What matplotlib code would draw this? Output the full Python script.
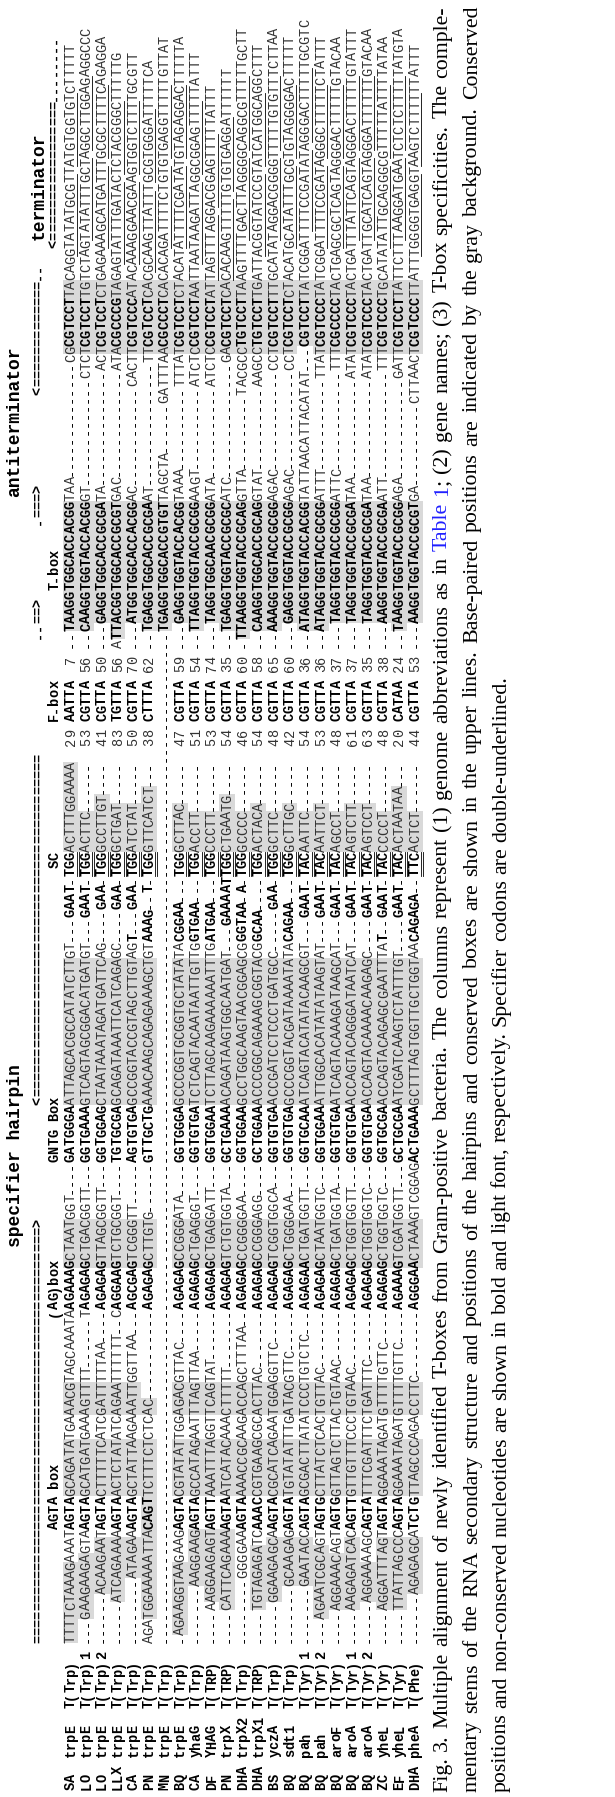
import matplotlib
matplotlib.use('Agg')
import matplotlib.pyplot as plt
from matplotlib.patches import Rectangle
from matplotlib.lines import Line2D

# ---------------- data ----------------
genomes = ["SA", "LO", "LO", "LLX", "CA", "PN", "MN", "BQ", "CA", "DF", "PN", "DHA", "DHA",
           "BS", "BQ", "BQ", "BQ", "BQ", "BQ", "BQ", "ZC", "EF", "DHA"]
genes = ["trpE", "trpE", "trpE", "trpE", "trpE", "trpE", "trpE", "trpE", "yhaG", "YHAG", "trpX",
         "trpX2", "trpX1", "yczA", "sdt1", "pah", "pah", "aroF", "aroA", "aroA", "yheL", "yheL", "pheA"]
specs = ["T(Trp)", "T(Trp)", "T(Trp)", "T(Trp)", "T(Trp)", "T(Trp)", "T(Trp)", "T(Trp)", "T(Trp)",
         "T(TRP)", "T(TRP)", "T(Trp)", "T(TRP)", "T(Trp)", "T(Trp)", "T(Tyr)", "T(Tyr)", "T(Tyr)",
         "T(Tyr)", "T(Tyr)", "T(Tyr)", "T(Tyr)", "T(Phe)"]
suffixes = ["", "1", "2", "", "", "", "", "", "", "", "", "", "", "", "", "1", "2", "", "1", "2", "", "", ""]

upstream = [
    "TTTTCTAAAGAAATAGTAGCAGATATGAAACGTAGCAAAT|A",
    "--GAAGAAGAGTAAGTAGCATGATGAAAGTTTT|T",
    "----ACAAGAATAGTACTTTTTCATCGATTTTTAA|",
    "----ATCAGAAAAAGTAACTCTATATCAGAATTTTTT|C",
    "----ATAGAAAGTAGCTATTAAGAAATTGGTTAA|",
    "---AGATGGAAAAATTACAGTTCTTTCTCTCAC|",
    "",
    "-AGAAGGTAAGAAGAGTACGTATATTGGAGACGTTAC|",
    "-----AAGGAAGAGTAGCCATAGAATTTAGTTAA|",
    "-----AAGGAAGAGTAGTTAAATTTAGGTTCAGTAT|",
    "----CATTCAGAAAAGTAATCATACAAACTTTTT|",
    "----GGGGAAAGTAAAACCGCAAGACCAGCTTTAA|",
    "----TGTAGAGATCAAACCGTGAAGCGCACTTAC|",
    "---GGAAGAGCAAGTACGCATCAGAATGGAGGTTC|",
    "----GCAAGAGAGTATGTATATTTGATACGTTC|",
    "----GAATACCAGTAGCGACTTATATCCCTGTCTC|",
    "--AGAATCGCAGTAGTGCTTATCTCACTGTTAC|",
    "---AGGAAACAGTAGTGGTTAGTCTTACTGTAAC|",
    "----AAGAGATCACAGTTGTTGTTTCCCTGTAAC|",
    "----AGGAAAAGCAGTATTTCGATTTCTGATTTC|",
    "---AGGATTTAGTAGTAGGAAATAGATGTTTTGTTC|",
    "----TTATTAGCCCAGTAGGAAATAGATGTTTTGTTC|",
    "------AGAGAGCATCTGTTAGCCCAGACCTTC|",
]
agbox = [
    "AGAAAGCTAATGGT|", "AGAGAGCTGACGGTT|", "AGAGAGTTAGCGGTT|", "AGGAAGTCTGCGGT|", "AGCGAGTCGGGTT|",
    "AGAGAGCTTGTG|", "", "AGAGAGCCGGGATA|", "AGAGAGCTGAGGGT|", "AGAGAGCTGAGGATT|",
    "AGAGAGTCTGTGGTA|", "AGAGAGCCGGGGAA|", "AGAGAGCCGGGAGG|", "AGAGAGTCGGTGGCA|",
    "AGAGAGCTGGGGAA|", "AGAGAACTGATGGTT|", "AGAGAGCTAATGGTC|", "AGAGAGCTGATGGTA|",
    "AGAGAGCTGGTGGTT|", "AGAGAGCTGGTGGTC|", "AGAGAGCTGGTGGTC|", "AGAAAGTCGATGGTT|",
    "AGGGAACTAAAGTCGGAG",
]
gntg = [
    "GATGGGAATTAGCACGCCATATCTTGT|GAAT-", "GGTGAAAGTCAGTAGCGGACATGATGT|GAAT-",
    "GGTGGAGCTAATAAATAGATGATTCAG|GAA-", "TGTGCGAGCAGATAAATTCATCAGAGC|GAA-",
    "AGTGTGAGCCGGTACCGTAGCTTGTAGT|GAA-", "GTTGCTGAAACAAGCAGAGAAAGCTGTAAAG|T-", "",
    "GGTGGGAGCCCGGTGCGGTGCTATATACGGAA|", "GGTGTGATCTCAGTACAATAATTGTTGGTGAA|",
    "GGTGGAATCTTAGCAAGAAAAAATTTGATGAA|", "GCTGAAAACAGATAAGTGGCAATGAT|GAAAAT",
    "GGTGGAAGCCTGGCAAGTAACGGAGCGGGTAA|A-", "GCTGGAAACCCGGCAGAAAGCGGTACGGCAA|",
    "GGTGTGAACCGATCCTCCCTGATGCC|GAA-", "GGTGTGAGCCCGGTACGATAAAATATACAGAA|",
    "GGTGCAAATCAGTACATATACAAGCGT|GAAT-", "GGTGGAAATTGGCACATATATAAGTAT|GAAT-",
    "GGTGTGAATCAGTACAAAGATAAGCAT|GAAT-", "GGTGTGAACCAGTACAGGGATAATCAT|GAAT-",
    "GGTGTGAACCAGTACAAAACAAGAGC|GAAT-", "GGTGCGAACCAGTACAGAGCGAATTTAT|GAAT-",
    "GCTGCGAATCGATCAAGTCTATTTGT|GAAT-", "ACTGAAAGCTTTAGTGGTTGCTGGTAACAGAGA-|",
]
sc_field = ["TGGACTTTGGAAAA", "TGGACTTC", "TGGGCCTTGT", "TGGGCTGAT", "TGGATCTAT", "TGGGTTCATCT", "",
            "TGGGCTTAC", "TGGACCTT", "TGGCCCTT", "TGGCTGAATG", "TGGGCCCC", "TGGACTACA", "TGGGCTTC",
            "TGGGCTTGC", "TACAATTC", "TACAATTCT", "TACAGCCT", "TACAGTCTT", "TACAGTCCT", "TACCCCCT",
            "TACACTAATAA", "TTCACTCT"]
len1 = [29, 53, 41, 83, 50, 38, None, 47, 51, 53, 54, 46, 54, 48, 42, 54, 53, 48, 61, 63, 48, 20, 44]
fbox = ["AATTA", "CGTTA", "CGTTA", "TGTTA", "CGTTA", "CTTTA", None, "CGTTA", "CGTTA", "CGTTA", "CGTTA",
        "CGTTA", "CGTTA", "CGTTA", "CGTTA", "CGTTA", "CGTTA", "CGTTA", "CGTTA", "CGTTA", "CGTTA",
        "CATAA", "CGTTA"]
len2 = [7, 56, 50, 56, 70, 62, None, 59, 54, 74, 35, 60, 58, 65, 60, 36, 36, 37, 37, 35, 38, 24, 53]
tbox_left = [
    "--TAAGGTGGCACCACGGTAA", "--CAAGGTGGTACCACGGGT", "---GAGGTGGCACCGCGATA", "ATTACGGTGGCACCGCGTGAC",
    "---ATGGTGGCACCACGGAC", "--TGAGGTGGCACCGCGAAT", "--TGAGGTGGCACCGTGTTAGCTA", "---GAGGTGGTACCACGGTAAA",
    "--TTAGGTGGTACCGCGGAAGT", "---TAGGTGGCAACGCGGATA", "--TGAGGTGGTACCGCGCATC", "-TTAAGGTGGTACCGCAGGTTA",
    "--CAAGGTGGCACCGCAGGTAT", "--AAAGGTGGTACCGCGGAGAC", "---GAGGTGGTACCGCGGAGAC",
    "--ATAGGTGGTACCACGGTATTAACATTACATAT", "--ATAGGTGGTACCGCGGATTT", "---TAGGTGGTACCGCGGATTC",
    "---TAGGTGGTACCGCGATAA", "---TAGGTGGTACCGCGATAA", "---AAGGTGGTACCGCGAATT", "--TAAGGTGGTACCGCGGAGA",
    "---AAGGTGGTACCGCGTGA",
]
antiterm_right = ["CGCGTCCT", "CTCTCGTCCT", "ACTCGTCCT", "ATACGCCCG", "CACTTCGTCCC", "TTCGTCCT",
                  "GATTTAACGCCCT", "TTTATCGTCCT", "ATCTCCGTCCT", "ATCTCCGTCCT", "GACGTCCT", "TACGCCTGTCCT",
                  "AAGCCTGTCCT", "CCTCGTCCT", "CCTCGTCCT", "CGTCCT", "TTATCGTCCC", "TTTCGCCCC",
                  "ATATCGTCCC", "ATATCGTCCC", "TTTCGTCCC", "GATTCGTCCT", "CTTAACTCGTCCC"]
terminators = [
    "TACAGGTATATGCGTTATGTGGTGTCTTTTT", "TGTCTAGTATATTTGCTAGGCTTGGAGAGGCCC",
    "CTGAGAAAGCATGATTTGCGCTTTTCAGAGGA", "TAGAGTATTTGATACTCTACGGGCTTTTTG",
    "ATACAAAGGAACGAAGTGGTCTTTTGCGTT", "CACGCAAGTTATTTGCGTGGGATTTTTCA",
    "CACACAGATTTTCTGTGTGAGGTTTTTGTTAT", "CTACATATTTTCGATATGTAGAGGACTTTTTA",
    "AATTAATAAGATTAGGCGGAGTTTTTATTT", "ATTAGTTTAGGACGGAGTTTTTATTT",
    "CACACAAGTTTTTGTGTGAGGATTTTTT", "TAAGTTTTGACTTAGGGGCAGGCGTTTTTGCTT",
    "TGATTACGGTATCCGTATCATGGCAGGCTTT", "TTGCATATAGGACGGGGTTTTTGTGTTTCTTAA",
    "CTACATGCATATTTGCGTGTAGGGGACTTTTT", "TATCGGATTTTCCGATATAGGGACTTTTTGCGTC",
    "TATCGGATTTTCCGATAGGGCTTTTTCTATTT", "TACTGAGCGCTCAGTAGGGACTTTTTGTACAA",
    "TACTGATTTATTCAGTAGGGACTTTTTGTATTT", "TACTGATTGCATCAGTAGGGATTTTTTGTACAA",
    "TGCATATATTGCAGGGCGTTTTTATTTTATAA", "TATTCTTTAAGGATGAATCTCTCTTTTTATGTA",
    "TTATTTGGGGTGAGGTAAGTCTTTTTTATTT",
]
upstream_gray = [(18, 27), (20, 28), (22, 30), (22, 30), (22, 30), (21, 35), None, (19, 27), (23, 31),
                 (23, 31), (22, 31), (22, 25), (22, 29), (21, 30), (22, 30), (22, 30), (20, 29), (21, 28),
                 (22, 30), (22, 27), (21, 30), (22, 30), (24, 30)]
common_gray = [(36, 42), (46, 49), (64, 69), (84, 101), (115, 125), (141, 157), (176, 184)]
bold_ranges = [(32, 35), (59, 64), (77, 83), (104, 111), (112, 114), (131, 135), (141, 157), (177, 182)]

titles = [("specifier hairpin", 14, 1247), ("antiterminator", 14, 497), ("terminator", 38, 240)]
marker_line = [(18, "=" * 51 + ">"), (84, "<" + "=" * 42), (141, "--==>"), (155, "-===>"),
               (171, "<" + "=" * 13 + "--")]
label_line = [(32, "AGTA box"), (58, "(AG)box"), (77, "GNTG Box"), (113, "SC"), (131, "F-box"),
              (147, "T-box"), (189, "<" + "=" * 17 + "-" * 8)]

caption_lines = [
    "Fig. 3. Multiple alignment of newly identified T-boxes from Gram-positive bacteria. The columns "
    "represent (1) genome abbreviations as in Table 1; (2) gene names; (3) T-box specificities. The comple-",
    "mentary stems of the RNA secondary structure and positions of the hairpins and conserved boxes are "
    "shown in the upper lines. Base-paired positions are indicated by the gray background. Conserved",
    "positions and non-conserved nucleotides are shown in bold and light font, respectively. Specifier "
    "codons are double-underlined.",
]

# ---------------- layout ----------------
W, H = 615, 1797
P = 8.16            # character pitch along a row (px)
Y0 = 1790           # start of column 0
ROW_X0 = 70.5
ROW_DX = 15.65
MONO = "Liberation Mono"
SERIF = "Liberation Serif"
FS = P / 0.6 * 72 / 100
BASE = 4.3
GRAY = "#d9d9d9"
LIGHT = "#333333"

fig = plt.figure(figsize=(W / 100, H / 100), dpi=100)
ax = fig.add_axes([0, 0, 1, 1])
ax.set_xlim(0, W)
ax.set_ylim(H, 0)
ax.axis("off")


def fit(s, n):
    a, sep, b = s.partition("|")
    fill = n - len(a) - len(b)
    if fill >= 0:
        return a + "-" * fill + b
    while fill < 0 and a.endswith("-"):
        a = a[:-1]; fill += 1
    while fill < 0 and b.startswith("-"):
        b = b[1:]; fill += 1
    if fill < 0:
        a = a[:len(a) + fill]
    return a + b


def align_agta(s):
    if not s:
        return s
    a, sep, b = s.partition("|")
    idx = [i for i in range(0, min(len(a), 24) - 2) if a[i:i + 3] == "AGT"]
    if not idx:
        return s
    i = min(idx, key=lambda k: abs(k - 14))
    d = 14 - i
    if d > 0:
        a = "-" * d + a
    else:
        k = 0
        while k < -d and a.startswith("-"):
            a = a[1:]; k += 1
    return a + sep + b


rows = []
for r in range(len(genomes)):
    label = f"{genomes[r]:<4}{genes[r]:<6}{specs[r]}{suffixes[r]}".ljust(18)
    body = (fit(align_agta(upstream[r]), 41) + fit(agbox[r], 18) + fit(gntg[r], 35)
            + fit(sc_field[r], 14))
    if len1[r] is None:
        nums = "-" * 14
    else:
        nums = f"  {len1[r]:>2} {fbox[r]} {len2[r]:>2} "
    anti = fit(tbox_left[r] + "|" + antiterm_right[r], 43)
    rows.append(label + body + nums + anti + terminators[r])


def is_bold(c, ch):
    if c < 18:
        return True
    if ch == "-":
        return False
    return any(a <= c <= b for a, b in bold_ranges)


def draw_grid_text(xc, s, start_col, bold_all=None, color=None):
    for i, ch in enumerate(s):
        if ch == " ":
            continue
        c = start_col + i
        b = bold_all if bold_all is not None else is_bold(c, ch)
        col = color if color else ("black" if (b or ch == "-") else LIGHT)
        ax.text(xc + BASE, Y0 - (c + 0.5) * P, ch, rotation=90, rotation_mode="anchor",
                ha="center", va="baseline", fontsize=FS, family=MONO,
                fontweight="bold" if b else "normal", color=col, zorder=3)


for r, s in enumerate(rows):
    xc = ROW_X0 + r * ROW_DX
    blocks = list(common_gray)
    if upstream_gray[r]:
        blocks.append(upstream_gray[r])
    for a, b in blocks:
        c = a
        while c <= b:
            if c < len(s) and s[c] not in "- ":
                st = c
                while c <= b and c < len(s) and s[c] not in "- ":
                    c += 1
                ax.add_patch(Rectangle((xc - ROW_DX / 2, Y0 - c * P), ROW_DX, (c - st) * P,
                                       facecolor=GRAY, edgecolor="none", zorder=1))
            else:
                c += 1
    draw_grid_text(xc, s, 0)
    # specifier codon double underline
    if sc_field[r]:
        for off in (2.0, 4.0):
            ax.add_line(Line2D([xc + BASE + off] * 2, [Y0 - 112 * P, Y0 - 115 * P],
                               color="black", lw=0.6, zorder=4))
    # terminator stems (single underline)
    n = len(terminators[r])
    for a, b in ((n - 26, n - 16), (n - 15, n - 6)):
        a = max(a, 2)
        if b > a:
            ax.add_line(Line2D([xc + BASE + 2.0] * 2, [Y0 - (183 + a) * P, Y0 - (183 + b) * P],
                               color="black", lw=0.6, zorder=4))

# header lines
for col, txt in marker_line:
    draw_grid_text(38, txt, col, bold_all=True, color="black")
for col, txt in label_line:
    draw_grid_text(54, txt, col, bold_all=True, color="black")
TFS = 10.8 / 0.6 * 72 / 100
for txt, x, y in titles:
    ax.text(x + 5.5, y, txt, rotation=90, rotation_mode="anchor", ha="left", va="baseline",
            fontsize=TFS, family=MONO, fontweight="bold", color="black", zorder=3)

# ---------------- caption ----------------
renderer = fig.canvas.get_renderer()


def measure(txt, fs):
    t = ax.text(0, 0, txt, fontsize=fs, family=SERIF)
    w = t.get_window_extent(renderer).width
    t.remove()
    return w


w10 = measure(caption_lines[2], 10)
CFS = 10 * (1792 - 675) / w10
BLUE = "#1f1fff"

cap_x = [447, 477, 506]
cap_just = [True, True, False]
for li, line in enumerate(caption_lines):
    words = line.split(" ")
    pieces = []
    for w in words:
        if w == "Table":
            pieces.append([(w, BLUE)])
        elif w == "1;" and "Table" in line:
            pieces.append([("1", BLUE), (";", "black")])
        else:
            pieces.append([(w, "black")])
    widths = [[measure(t, CFS) for t, _ in p] for p in pieces]
    total = sum(sum(ws) for ws in widths)
    if cap_just[li]:
        gap = (1792 - 6 - total) / (len(words) - 1)
    else:
        gap = measure("a a", CFS) - measure("aa", CFS)
    y = 1792
    for p, ws in zip(pieces, widths):
        for (t, col), w in zip(p, ws):
            ax.text(cap_x[li], y, t, rotation=90, rotation_mode="anchor", ha="left", va="baseline",
                    fontsize=CFS, family=SERIF, color=col, zorder=3)
            y -= w
        y -= gap

fig.savefig("out.png", dpi=100)
